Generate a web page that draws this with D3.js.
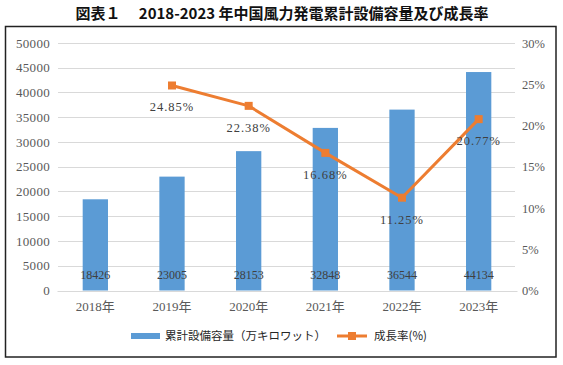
<!DOCTYPE html>
<html><head><meta charset="utf-8">
<script src="https://cdn.jsdelivr.net/npm/d3@7"></script>
<style>
body{margin:0;background:#fff;}
svg{display:block;}
</style></head>
<body>
<svg id="chart" width="563" height="365"></svg>
<script>
const categories = ["2018年","2019年","2020年","2021年","2022年","2023年"];
const capacity = [18426, 23005, 28153, 32848, 36544, 44134];
const growthYears = ["2019年","2020年","2021年","2022年","2023年"];
const growth = [24.85, 22.38, 16.68, 11.25, 20.77];
const leftTicks = [0,5000,10000,15000,20000,25000,30000,35000,40000,45000,50000];
const rightTicks = [0,5,10,15,20,25,30];
const title = "図表１　 2018-2023 年中国風力発電累計設備容量及び成長率";
const legendLabels = ["累計設備容量（万キロワット）","成長率(%)"];

const svg = d3.select("#chart");
const blue = "#5B9BD5", orange = "#ED7D31", gray = "#595959";
const serif = "'Liberation Serif','DejaVu Serif','Noto Sans CJK JP',serif";
const cjk = "'Noto Sans CJK JP','Noto Sans',sans-serif";

// title
svg.append("text").attr("x", 282).attr("y", 19).attr("text-anchor","middle")
  .attr("font-family", cjk).attr("font-weight","bold").attr("font-size", 15)
  .attr("fill","#111").text(title);

// border
svg.append("rect").attr("x",5.5).attr("y",26.5).attr("width",550.5).attr("height",330.5)
  .attr("fill","none").attr("stroke","#222").attr("stroke-width",1.5);

const x = d3.scaleBand().domain(categories).range([57, 517]).paddingInner(0.67).paddingOuter(0.335);
const yL = d3.scaleLinear().domain([0,50000]).range([290.5, 43]);
const yR = d3.scaleLinear().domain([0,30]).range([290.5, 43]);

// gridlines
svg.append("g").selectAll("line").data(leftTicks).join("line")
  .attr("x1",58).attr("x2",515).attr("y1",d=>Math.round(yL(d))+0.5).attr("y2",d=>Math.round(yL(d))+0.5)
  .attr("stroke","#d9d9d9").attr("stroke-width",1);

// left axis
const gL = svg.append("g").attr("transform","translate(50,0)")
  .call(d3.axisLeft(yL).tickValues(leftTicks).tickSize(0).tickPadding(0).tickFormat(d3.format("d")));
gL.select(".domain").remove();
gL.selectAll("text").attr("font-family",serif).attr("font-size",13).attr("fill",gray).attr("letter-spacing","0.3px");

// right axis
const gR = svg.append("g").attr("transform","translate(522,0)")
  .call(d3.axisRight(yR).tickValues(rightTicks).tickSize(0).tickPadding(0).tickFormat(d=>d+"%"));
gR.select(".domain").remove();
gR.selectAll("text").attr("font-family",serif).attr("font-size",12.5).attr("fill",gray);

// bottom axis
const gB = svg.append("g").attr("transform","translate(0,291)")
  .call(d3.axisBottom(x).tickSize(0).tickPadding(11));
gB.select(".domain").attr("stroke","#d9d9d9");
gB.selectAll("text").attr("font-family",serif).attr("font-size",13).attr("fill",gray);

// bars
svg.append("g").selectAll("rect").data(capacity).join("rect")
  .attr("x",(d,i)=>x(categories[i])).attr("width",x.bandwidth())
  .attr("y",d=>yL(d)).attr("height",d=>yL(0)-yL(d)).attr("fill",blue);

// bar labels
svg.append("g").selectAll("text").data(capacity).join("text")
  .attr("x",(d,i)=>x(categories[i])+x.bandwidth()/2).attr("y",279)
  .attr("text-anchor","middle").attr("font-family",serif).attr("font-size",12)
  .attr("fill","#404040").text(d=>d);

// line
const cx = d => x(d)+x.bandwidth()/2;
const line = d3.line().x((d,i)=>cx(growthYears[i])).y(d=>yR(d));
svg.append("path").datum(growth).attr("d",line).attr("fill","none")
  .attr("stroke",orange).attr("stroke-width",3).attr("stroke-linejoin","round");
svg.append("g").selectAll("rect").data(growth).join("rect")
  .attr("x",(d,i)=>cx(growthYears[i])-4).attr("y",d=>yR(d)-4)
  .attr("width",8).attr("height",8).attr("fill",orange);

// line labels
svg.append("g").selectAll("text").data(growth).join("text")
  .attr("x",(d,i)=>cx(growthYears[i])).attr("y",d=>yR(d)+26)
  .attr("text-anchor","middle").attr("font-family",serif).attr("font-size",12.5)
  .attr("letter-spacing","1px").attr("fill","#404040").text(d=>d.toFixed(2)+"%");

// legend
const lg = svg.append("g");
lg.append("rect").attr("x",131).attr("y",333).attr("width",29).attr("height",6).attr("fill",blue);
lg.append("text").attr("x",165).attr("y",340).attr("font-family",cjk).attr("font-size",11.5)
  .attr("fill","#262626").text(legendLabels[0]);
lg.append("line").attr("x1",337).attr("x2",367).attr("y1",336).attr("y2",336)
  .attr("stroke",orange).attr("stroke-width",3);
lg.append("rect").attr("x",348).attr("y",332).attr("width",8).attr("height",8).attr("fill",orange);
lg.append("text").attr("x",374).attr("y",340).attr("font-family",cjk).attr("font-size",11.5)
  .attr("fill","#262626").text(legendLabels[1]);
</script>
</body></html>
